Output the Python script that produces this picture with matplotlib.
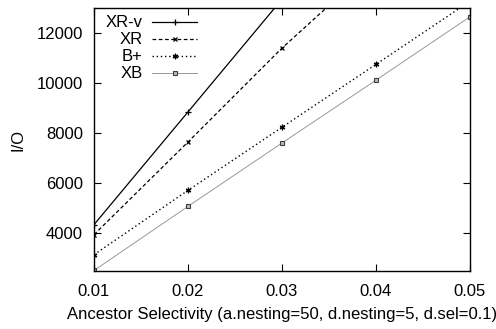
import matplotlib
matplotlib.use("Agg")
import matplotlib.pyplot as plt
from matplotlib.lines import Line2D

plt.rcParams['font.family'] = ['Liberation Sans', 'DejaVu Sans']
plt.rcParams['font.size'] = 12

# selectivity values on the x axis
sel = [0.01, 0.02, 0.03, 0.04, 0.05]

# I/O per method (points past the top are clipped, as in the original)
xr_v = [4350, 8850, 13350]
xr = [3950, 7650, 11400, 14800]
bplus = [3150, 5720, 8240, 10750, 13270]
xb = [2520, 5080, 7610, 10120, 12650]

labels = ["XR-v", "XR", "B+", "XB"]

fig = plt.figure(figsize=(4.96, 3.29), dpi=100)
ax = fig.add_axes([94 / 496, 1 - 271 / 329, 376 / 496, 263 / 329])

styles = [
    dict(color='black', linestyle='-', linewidth=0.9, marker='+', markersize=5, mew=0.9),
    dict(color='black', linestyle=(0, (3, 2)), linewidth=0.9, marker='x', markersize=3.5, mew=0.9),
    dict(color='black', linestyle=(0, (1, 2)), linewidth=1.0, marker=(6, 2, 0), markersize=4, mew=0.9),
    dict(color='#999999', linestyle='-', linewidth=0.7, marker='s', markersize=3.5,
         mfc='#bbbbbb', mec='#404040', mew=0.8),
]

series = [xr_v, xr, bplus, xb]
for ys, st in zip(series, styles):
    ax.plot(sel[:len(ys)], ys, clip_on=True, **st)

ax.set_xlim(0.01, 0.05)
ax.set_ylim(2500, 13000)
ax.set_xticks(sel)
ax.set_xticklabels(["0.01", "0.02", "0.03", "0.04", "0.05"])
ax.set_yticks([4000, 6000, 8000, 10000, 12000])
ax.tick_params(direction='in', top=True, right=True, length=5, width=0.8)
ax.tick_params(axis='x', pad=9)
ax.tick_params(axis='y', pad=8)
for sp in ax.spines.values():
    sp.set_linewidth(1.0)

ax.set_xlabel("Ancestor Selectivity (a.nesting=50, d.nesting=5, d.sel=0.1)", labelpad=6)
ax.set_ylabel("I/O", labelpad=8)

# gnuplot-style key: labels right-aligned, sample lines to the right
handles = [Line2D([], [], **st) for st in styles]
leg = ax.legend(handles, labels, loc='upper left', bbox_to_anchor=(0.005, 1.01),
                frameon=False, markerfirst=False, handlelength=2.7,
                handletextpad=0.55, labelspacing=0.12, borderaxespad=0.2)
for t in leg.get_texts():
    t.set_ha('right')
leg._legend_box.align = "right"

fig.savefig("out.png", dpi=100)
